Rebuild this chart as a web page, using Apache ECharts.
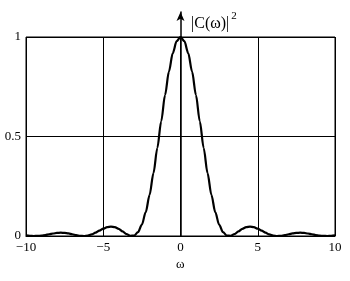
<!DOCTYPE html>
<html><head><meta charset="utf-8">
<script src="https://cdn.jsdelivr.net/npm/echarts@6/dist/echarts.min.js"></script>
<style>html,body{margin:0;padding:0;background:#fff}#c{width:350px;height:281px}</style>
</head><body><div id="c"></div>
<script>
const omega = [-10,-9.75,-9.5,-9.25,-9,-8.75,-8.5,-8.25,-8,-7.75,-7.5,-7.25,-7,-6.75,-6.5,-6.25,-6,-5.75,-5.5,-5.25,-5,-4.75,-4.5,-4.25,-4,-3.75,-3.5,-3.25,-3,-2.75,-2.5,-2.25,-2,-1.75,-1.5,-1.25,-1,-0.75,-0.5,-0.25,0,0.25,0.5,0.75,1,1.25,1.5,1.75,2,2.25,2.5,2.75,3,3.25,3.5,3.75,4,4.25,4.5,4.75,5,5.25,5.5,5.75,6,6.25,6.5,6.75,7,7.25,7.5,7.75,8,8.25,8.5,8.75,9,9.25,9.5,9.75,10];
const power = [0.0030,0.0011,0.0001,0.0004,0.0021,0.0051,0.0088,0.0125,0.0153,0.0165,0.0156,0.0129,0.0088,0.0044,0.0011,0.0000,0.0022,0.0078,0.0165,0.0268,0.0368,0.0443,0.0472,0.0443,0.0358,0.0232,0.0100,0.0011,0.0022,0.019,0.057,0.120,0.207,0.316,0.442,0.576,0.708,0.826,0.919,0.979,1.000,0.979,0.919,0.826,0.708,0.576,0.442,0.316,0.207,0.120,0.057,0.019,0.0022,0.0011,0.0100,0.0232,0.0358,0.0443,0.0472,0.0443,0.0368,0.0268,0.0165,0.0078,0.0022,0.0000,0.0011,0.0044,0.0088,0.0129,0.0156,0.0165,0.0153,0.0125,0.0088,0.0051,0.0021,0.0004,0.0001,0.0011,0.0030];
const xTicks = [-10,-5,0,5,10];
const yTicks = [0,0.5,1];
const yTitle = '|C(ω)|';
const xTitle = 'ω';

const chart = echarts.init(document.getElementById('c'));
const font = 'Liberation Serif';
chart.setOption({
  animation: false,
  backgroundColor: '#fff',
  grid: [
    {left: 26, right: 15, top: 37, bottom: 45, show: true, borderColor: '#000', borderWidth: 1, backgroundColor: 'transparent'},
    {left: 26, right: 15, top: 12, bottom: 45, show: false}
  ],
  title: {
    text: '{a|' + yTitle + '}{b|2}',
    left: 186, top: 6,
    textStyle: {fontWeight: 'normal', rich: {
      a: {fontFamily: font, fontSize: 16, fontWeight: 'normal', color: '#000', verticalAlign: 'bottom'},
      b: {fontFamily: font, fontSize: 11, fontWeight: 'normal', color: '#000', verticalAlign: 'top', padding: [0,0,10,2]}
    }}
  },
  graphic: [{type: 'text', left: 176, top: 258, style: {text: xTitle, font: '13px ' + font, fill: '#000'}}],
  xAxis: [
    {type: 'value', gridIndex: 0, min: -10, max: 10, interval: 5,
     axisLine: {show: true, onZero: false, lineStyle: {color: '#000', width: 1}},
     axisTick: {show: false},
     splitLine: {show: true, lineStyle: {color: '#000', width: 1}},
     axisLabel: {color: '#000', fontFamily: font, fontSize: 13, margin: 5,
       formatter: v => xTicks.includes(v) ? (v < 0 ? '\u2212' + (-v) : String(v)) : ''}},
    {type: 'value', gridIndex: 1, min: -10, max: 10, show: true,
     axisLine: {show: false}, axisTick: {show: false}, axisLabel: {show: false}, splitLine: {show: false}}
  ],
  yAxis: [
    {type: 'value', gridIndex: 0, min: 0, max: 1, interval: 0.5,
     axisLine: {show: false}, axisTick: {show: false},
     splitLine: {show: true, lineStyle: {color: '#000', width: 1}},
     axisLabel: {color: '#000', fontFamily: font, fontSize: 13, margin: 5,
       formatter: v => yTicks.includes(v) ? String(v) : ''}},
    {type: 'value', gridIndex: 1, min: 0, max: 1,
     axisLine: {show: true, onZero: true, symbol: ['none', 'arrow'], symbolSize: [6, 9],
       lineStyle: {color: '#000', width: 1.5}},
     axisTick: {show: false}, axisLabel: {show: false}, splitLine: {show: false}}
  ],
  series: [{
    type: 'line', xAxisIndex: 0, yAxisIndex: 0,
    data: omega.map((w, i) => [w, power[i]]),
    smooth: 0.3, smoothMonotone: 'x', showSymbol: false, symbol: 'none',
    lineStyle: {color: '#000', width: 2.2}, z: 5
  }]
});
</script></body></html>
